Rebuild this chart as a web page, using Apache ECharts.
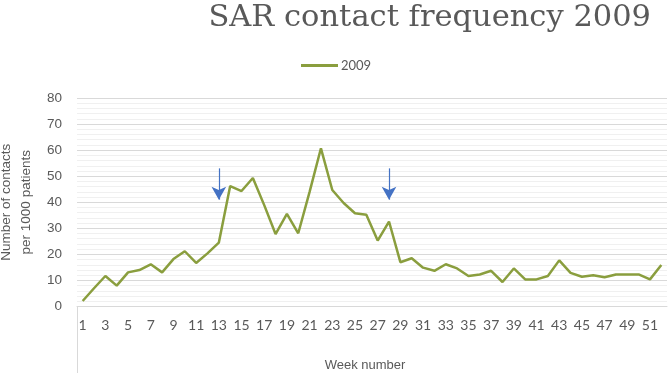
<!DOCTYPE html>
<html>
<head>
<meta charset="utf-8">
<script src="https://cdn.jsdelivr.net/npm/echarts@6/dist/echarts.min.js"></script>
<style>
html, body { margin: 0; padding: 0; background: #fff; }
#main { width: 671px; height: 373px; }
</style>
</head>
<body>
<div id="main"></div>
<script>
// weeks 1..52
var weeks = [];
for (var w = 1; w <= 52; w++) weeks.push(String(w));

var contacts2009 = [
  2.1, 7, 11.7, 8.0, 13.1, 14, 16.2, 13.1, 18.2, 21.2,
  16.7, 20.4, 24.5, 46.2, 44.3, 49.3, 38.9, 27.8, 35.5, 28.1,
  44, 60.7, 44.7, 39.7, 35.8, 35.2, 25.3, 32.6, 17, 18.5,
  14.9, 13.7, 16.2, 14.6, 11.7, 12.3, 13.7, 9.4, 14.6, 10.4,
  10.4, 11.7, 17.7, 12.9, 11.4, 12, 11.2, 12.3, 12.3, 12.3,
  10.4, 15.9
];

// annotation arrows (week, from, to)
var arrowWeeks = ['13', '28'];
var arrowFrom = 53;
var arrowTo = 41;

var chart = echarts.init(document.getElementById('main'));

var arrows = arrowWeeks.map(function (wk) {
  return [{ coord: [wk, arrowFrom] }, { coord: [wk, arrowTo] }];
});

var option = {
  animation: false,
  title: {
    text: 'SAR contact frequency 2009',
    right: 15,
    top: -2,
    textStyle: {
      fontFamily: 'DejaVu Serif',
      fontWeight: 'normal',
      fontSize: 30.5,
      color: '#595959'
    }
  },
  legend: {
    left: 296,
    top: 54,
    itemWidth: 37,
    itemHeight: 3,
    itemGap: 4,
    icon: 'rect',
    textStyle: { fontFamily: 'Lato', fontSize: 13, color: '#595959', padding: [0, 0, 0, -2] },
    data: ['2009']
  },
  grid: {
    left: 77,
    right: 4,
    top: 98,
    bottom: 66.5,
    outerBoundsMode: 'none'
  },
  xAxis: {
    type: 'category',
    data: weeks,
    boundaryGap: true,
    name: 'Week number',
    nameLocation: 'middle',
    nameGap: 52,
    nameTextStyle: { fontFamily: 'Liberation Sans', fontSize: 13, color: '#595959', padding: [0, 14, 0, 0] },
    axisLine: { show: true, lineStyle: { color: '#d9d9d9', width: 1 } },
    axisTick: { show: false },
    axisLabel: {
      interval: 1,
      margin: 12,
      fontFamily: 'Lato',
      fontSize: 14,
      color: '#595959'
    }
  },
  yAxis: {
    type: 'value',
    min: 0,
    max: 80,
    interval: 10,
    name: 'Number of contacts\nper 1000 patients',
    nameLocation: 'middle',
    nameGap: 40,
    nameTextStyle: { fontFamily: 'Liberation Sans', fontSize: 13.5, color: '#595959', lineHeight: 20 },
    axisLine: { show: false },
    axisTick: { show: false },
    axisLabel: {
      margin: 15,
      fontFamily: 'Liberation Sans',
      fontSize: 13.5,
      color: '#595959'
    },
    splitLine: { lineStyle: { color: '#d9d9d9', width: 1 } },
    minorTick: { show: false, splitNumber: 5 },
    minorSplitLine: { show: true, lineStyle: { color: '#f0f0f0', width: 1 } }
  },
  graphic: [{
    type: 'line',
    shape: { x1: 77.5, y1: 306, x2: 77.5, y2: 373 },
    style: { stroke: '#d9d9d9', lineWidth: 1 }
  }],
  series: [{
    name: '2009',
    type: 'line',
    data: contacts2009,
    showSymbol: false,
    symbol: 'none',
    lineStyle: { color: '#8a9e3e', width: 2.5 },
    itemStyle: { color: '#8a9e3e' },
    markLine: {
      silent: true,
      symbol: ['none', 'arrow'],
      symbolSize: [11, 13],
      label: { show: false },
      lineStyle: { color: '#4472c4', width: 1.2, type: 'solid' },
      data: arrows
    }
  }]
};

chart.setOption(option);
</script>
</body>
</html>
